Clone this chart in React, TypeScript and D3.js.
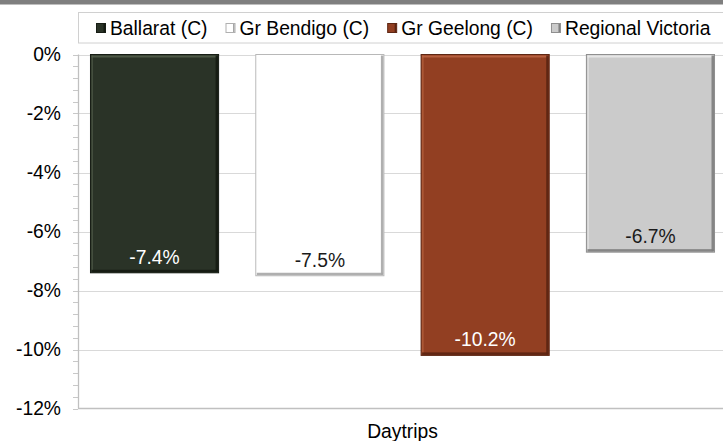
import React, { useEffect, useRef } from "react";
import * as d3 from "d3";

const categories = ["Daytrips"];
const seriesNames = ["Ballarat (C)", "Gr Bendigo (C)", "Gr Geelong (C)", "Regional Victoria"];
const seriesValues = [-7.4, -7.5, -10.2, -6.7];
const yTicks = [0, -2, -4, -6, -8, -10, -12];

const fills = ["#2a3327", "#ffffff", "#923f22", "#cbcbcb"];
const borders = ["#171d15", "#b8b8b8", "#5e2714", "#8f8f8f"];
const highlights = ["#56614f", "#ffffff", "#bf6a48", "#ececec"];
const shades = ["#141a12", "#a6a6a6", "#5a2412", "#7d7d7d"];
const labelColors = ["#ffffff", "#1a1a1a", "#ffffff", "#1a1a1a"];

const W = 723;
const H = 441;
const FONT = "'Liberation Sans', Arial, sans-serif";
const FS = 19.3;

export default function App() {
  const ref = useRef<SVGSVGElement | null>(null);

  useEffect(() => {
    document.body.style.margin = "0";
    const svg = d3.select(ref.current);
    svg.selectAll("*").remove();

    const plot = { left: 78, right: 727, top: 54.5, bottom: 408.5 };

    // top banner
    svg.append("rect").attr("x", 0).attr("y", 0).attr("width", W).attr("height", 4.5).attr("fill", "#7f7f7f");

    const y = d3.scaleLinear().domain([-12, 0]).range([plot.bottom, plot.top]);
    const x0 = d3.scaleBand<string>().domain(categories).range([plot.left, plot.right]).paddingOuter(0.02).paddingInner(0);
    const x1 = d3.scaleBand<string>().domain(seriesNames).range([0, x0.bandwidth()]).paddingInner(0.225).paddingOuter(0);

    // horizontal gridlines
    svg.append("g").selectAll("line").data(yTicks.slice(0, -1)).join("line")
      .attr("x1", plot.left).attr("x2", W)
      .attr("y1", (d) => Math.round(y(d)) + 0.5).attr("y2", (d) => Math.round(y(d)) + 0.5)
      .attr("stroke", "#d9d9d9").attr("stroke-width", 1.2);

    // minor/major ticks every 0.4%
    const minor = d3.range(0, 31).map((i) => -i * 0.4);
    svg.append("g").selectAll("line").data(minor).join("line")
      .attr("x1", plot.left - 5).attr("x2", plot.left)
      .attr("y1", (d) => Math.round(y(d)) + 0.5).attr("y2", (d) => Math.round(y(d)) + 0.5)
      .attr("stroke", "#c8c8c8").attr("stroke-width", 1);

    // axis lines
    svg.append("line").attr("x1", plot.left + 0.5).attr("x2", plot.left + 0.5)
      .attr("y1", plot.top).attr("y2", plot.bottom).attr("stroke", "#c0c0c0").attr("stroke-width", 1.3);
    svg.append("line").attr("x1", plot.left).attr("x2", W)
      .attr("y1", plot.bottom).attr("y2", plot.bottom).attr("stroke", "#c0c0c0").attr("stroke-width", 1.6);

    // tick labels
    svg.append("g").selectAll("text").data(yTicks).join("text")
      .attr("x", 61).attr("y", (d) => y(d)).attr("dy", "0.35em")
      .attr("text-anchor", "end").attr("font-family", FONT).attr("font-size", FS).attr("fill", "#000")
      .text((d) => `${d}%`);

    // bars
    const bars = svg.append("g");
    seriesNames.forEach((name, i) => {
      const v = seriesValues[i];
      const bx = (x0(categories[0]) ?? 0) + (x1(name) ?? 0);
      const bw = x1.bandwidth();
      const by = y(0);
      const bh = y(v) - y(0);
      const g = bars.append("g");
      g.append("rect").attr("x", bx).attr("y", by).attr("width", bw).attr("height", bh)
        .attr("fill", fills[i]).attr("stroke", borders[i]).attr("stroke-width", 1);
      // bevel: light top/left, dark right/bottom
      g.append("rect").attr("x", bx + 1).attr("y", by + 1).attr("width", bw - 2).attr("height", 2)
        .attr("fill", highlights[i]).attr("opacity", 0.8);
      g.append("rect").attr("x", bx + 1).attr("y", by + 1).attr("width", 1.5).attr("height", bh - 2)
        .attr("fill", highlights[i]).attr("opacity", 0.6);
      g.append("rect").attr("x", bx + bw - 3).attr("y", by + 1).attr("width", 2.5).attr("height", bh - 2)
        .attr("fill", shades[i]).attr("opacity", 0.9);
      g.append("rect").attr("x", bx + 1).attr("y", by + bh - 3).attr("width", bw - 2).attr("height", 2.5)
        .attr("fill", shades[i]).attr("opacity", 0.9);
      g.append("text").attr("x", bx + bw / 2).attr("y", y(v) - 9)
        .attr("text-anchor", "middle").attr("font-family", FONT).attr("font-size", FS)
        .attr("fill", labelColors[i]).text(`${v.toFixed(1)}%`);
    });

    // category label
    svg.append("text").attr("x", (x0(categories[0]) ?? 0) + x0.bandwidth() / 2).attr("y", 438)
      .attr("text-anchor", "middle").attr("font-family", FONT).attr("font-size", FS).attr("fill", "#000")
      .text(categories[0]);

    // legend
    const lg = svg.append("g");
    lg.append("rect").attr("x", 78.5).attr("y", 12.5).attr("width", W).attr("height", 30.5)
      .attr("fill", "#fff").attr("stroke", "#d0d0d0").attr("stroke-width", 1);
    let cx = 96;
    seriesNames.forEach((name, i) => {
      const item = lg.append("g");
      item.append("rect").attr("x", cx + 0.5).attr("y", 23.5).attr("width", 9).attr("height", 9)
        .attr("fill", fills[i]).attr("stroke", i === 1 ? "#b0b0b0" : borders[i]).attr("stroke-width", 1);
      item.append("rect").attr("x", cx + 7.5).attr("y", 24).attr("width", 1.5).attr("height", 8)
        .attr("fill", shades[i]);
      const t = item.append("text").attr("x", cx + 14).attr("y", 34.5)
        .attr("font-family", FONT).attr("font-size", FS).attr("fill", "#000").text(name);
      const tw = (t.node() as SVGTextElement).getComputedTextLength();
      cx = cx + 14 + tw + 18;
    });
  }, []);

  return (
    <svg ref={ref} width={W} height={H} style={{ display: "block", position: "absolute", left: 0, top: 0 }} />
  );
}
